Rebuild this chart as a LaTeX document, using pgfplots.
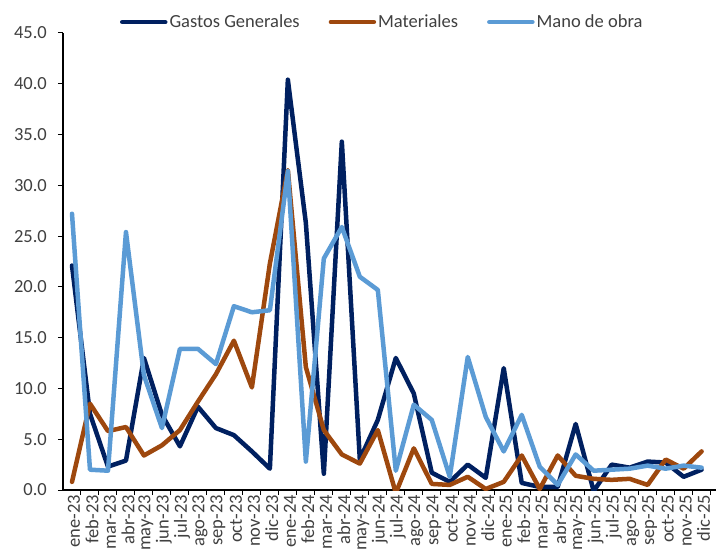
\documentclass[border=0pt]{standalone}
\usepackage{pgfplots}
\pgfplotsset{compat=1.18}
\usepackage{fontspec}
\setmainfont{Carlito}
\definecolor{gg}{HTML}{002060}
\definecolor{mat}{HTML}{9E480E}
\definecolor{mo}{HTML}{5B9BD5}
\definecolor{txt}{HTML}{404040}
\begin{document}
\begin{tikzpicture}
\path[use as bounding box] (-63bp,-64bp) rectangle (653bp,490bp);
\begin{axis}[
  at={(0,0)}, anchor=south west,
  scale only axis,
  width=653bp, height=457bp,
  xmin=-0.5, xmax=35.8,
  ymin=0, ymax=45,
  axis x line=bottom, axis y line=left,
  axis line style={-, line width=1.2bp, black},
  tick align=outside,
  major tick length=5bp,
  minor tick length=5bp,
  tick style={line width=1bp, black},
  xtick={0,...,35},
  major x tick style={draw=none},
  minor xtick={0.5,1.5,...,35.5},
  xticklabels={ene-23,feb-23,mar-23,abr-23,may-23,jun-23,jul-23,ago-23,sep-23,oct-23,nov-23,dic-23,ene-24,feb-24,mar-24,abr-24,may-24,jun-24,jul-24,ago-24,sep-24,oct-24,nov-24,dic-24,ene-25,feb-25,mar-25,abr-25,may-25,jun-25,jul-25,ago-25,sep-25,oct-25,nov-25,dic-25},
  xticklabel style={rotate=90, anchor=east, inner sep=0pt, xshift=0bp, yshift=-2bp, font=\fontsize{18.5bp}{22bp}\selectfont, text=txt},
  ytick={0,5,...,45},
  yticklabel style={/pgf/number format/.cd, fixed, fixed zerofill, precision=1, assume math mode=true, /tikz/.cd, inner sep=0pt, anchor=east, xshift=-11bp, font=\fontsize{18.5bp}{22bp}\selectfont, text=txt},
  legend style={at={(0.087,1.024)}, anchor=west, draw=none, fill=none, inner sep=0pt,
    font=\fontsize{18.5bp}{22bp}\selectfont, text=txt,
    nodes={inner xsep=2bp, inner ysep=0pt},
    /tikz/every even column/.append style={column sep=27bp}},
  legend columns=3,
  legend image code/.code={\draw[#1, line width=4.5bp] (0bp,0bp) -- (43bp,0bp);},
  every axis plot/.append style={line width=4.5bp, line join=round, line cap=round},
  clip=true,
]
\addplot[gg] coordinates {
(0,22.1)(1,7.5)(2,2.3)(3,2.9)(4,13.0)(5,7.4)(6,4.3)(7,8.2)(8,6.1)(9,5.4)(10,3.8)(11,2.1)
(12,40.4)(13,26.3)(14,1.6)(15,34.3)(16,3.0)(17,6.9)(18,13.0)(19,9.5)(20,1.7)(21,0.8)(22,2.5)(23,1.2)
(24,12.0)(25,0.7)(26,0.3)(27,0.3)(28,6.5)(29,-0.1)(30,2.5)(31,2.2)(32,2.8)(33,2.7)(34,1.3)(35,2.0)};
\addlegendentry{Gastos Generales}
\addplot[mat] coordinates {
(0,0.8)(1,8.5)(2,5.8)(3,6.2)(4,3.4)(5,4.4)(6,5.9)(7,8.7)(8,11.4)(9,14.7)(10,10.1)(11,22.3)
(12,31.5)(13,12.1)(14,5.9)(15,3.5)(16,2.6)(17,5.9)(18,-0.3)(19,4.1)(20,0.6)(21,0.5)(22,1.3)(23,0.1)
(24,0.8)(25,3.4)(26,0.1)(27,3.4)(28,1.4)(29,1.1)(30,1.0)(31,1.1)(32,0.5)(33,3.0)(34,2.1)(35,3.8)};
\addlegendentry{Materiales}
\addplot[mo] coordinates {
(0,27.2)(1,2.0)(2,1.9)(3,25.4)(4,11.3)(5,6.1)(6,13.9)(7,13.9)(8,12.4)(9,18.1)(10,17.5)(11,17.7)
(12,31.4)(13,2.8)(14,22.8)(15,25.9)(16,21.0)(17,19.7)(18,1.9)(19,8.4)(20,6.9)(21,1.3)(22,13.1)(23,7.2)
(24,3.8)(25,7.4)(26,2.3)(27,0.5)(28,3.5)(29,1.9)(30,2.0)(31,2.1)(32,2.4)(33,2.1)(34,2.4)(35,2.2)};
\addlegendentry{Mano de obra}
\end{axis}
\end{tikzpicture}
\end{document}
